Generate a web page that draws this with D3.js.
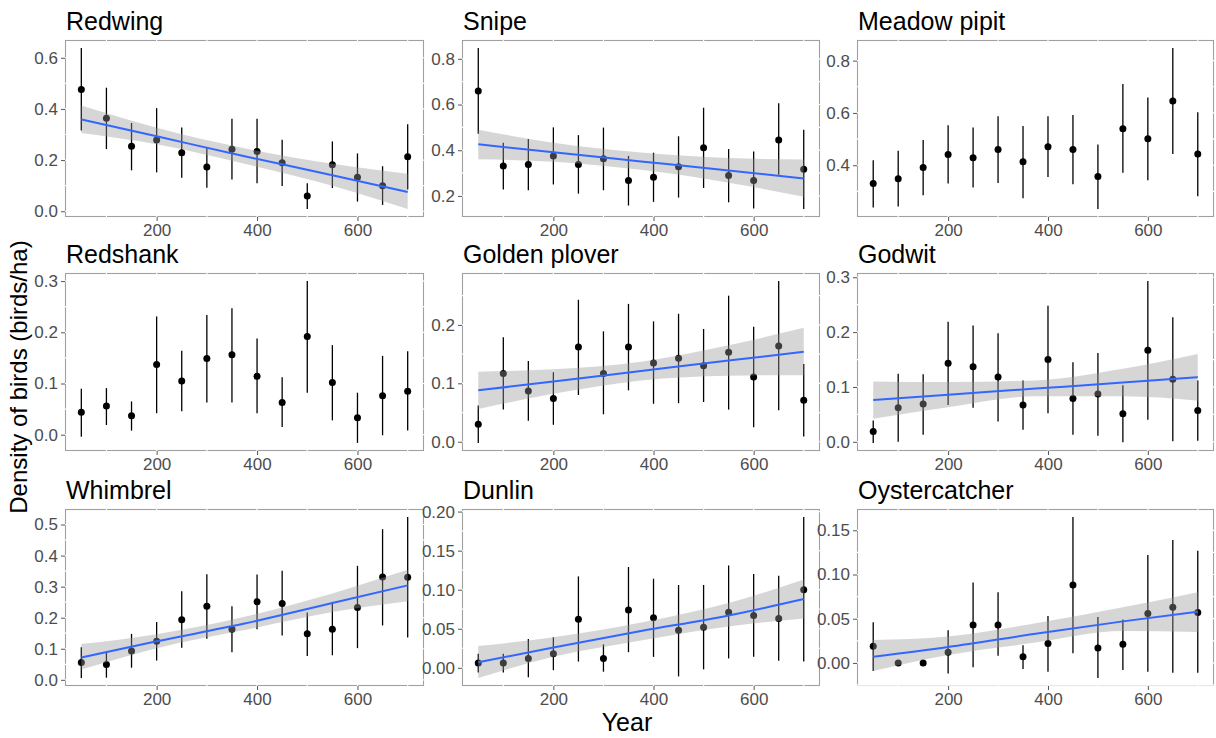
<!DOCTYPE html>
<html>
<head>
<meta charset="utf-8">
<script src="https://cdn.jsdelivr.net/npm/d3@7"></script>
<style>
  body { margin: 0; background: #fff; }
  text { font-family: "Liberation Sans", Arial, sans-serif; }
</style>
</head>
<body>
<svg id="chart" width="1216" height="738"></svg>
<script>
// ---- data ----
var years = [50, 100, 150, 200, 250, 300, 350, 400, 450, 500, 550, 600, 650, 700];
var fitYears = [50, 200, 375, 550, 700];
var xTicks = [200, 400, 600];

var redwingMean = [0.476, 0.364, 0.254, 0.279, 0.229, 0.173, 0.242, 0.234, 0.190, 0.060, 0.182, 0.133, 0.100, 0.213];
var redwingLow  = [0.316, 0.243, 0.160, 0.152, 0.131, 0.092, 0.124, 0.109, 0.099, 0.009, 0.091, 0.038, 0.025, 0.085];
var redwingHigh = [0.638, 0.483, 0.345, 0.403, 0.327, 0.251, 0.362, 0.362, 0.280, 0.109, 0.273, 0.226, 0.176, 0.340];
var redwingFit     = [0.359, 0.293, 0.215, 0.141, 0.075];
var redwingFitLow  = [0.306, 0.262, 0.186, 0.100, 0.009];
var redwingFitHigh = [0.413, 0.326, 0.246, 0.186, 0.147];
var redwingTicks = [0, 0.2, 0.4, 0.6];

var snipeMean = [0.659, 0.331, 0.338, 0.375, 0.338, 0.363, 0.267, 0.282, 0.328, 0.411, 0.289, 0.268, 0.445, 0.317];
var snipeLow  = [0.472, 0.228, 0.225, 0.250, 0.210, 0.225, 0.158, 0.174, 0.193, 0.235, 0.172, 0.145, 0.293, 0.143];
var snipeHigh = [0.847, 0.433, 0.449, 0.500, 0.466, 0.499, 0.375, 0.389, 0.461, 0.586, 0.405, 0.394, 0.606, 0.490];
var snipeFit     = [0.426, 0.391, 0.351, 0.311, 0.276];
var snipeFitLow  = [0.360, 0.350, 0.314, 0.258, 0.196];
var snipeFitHigh = [0.490, 0.433, 0.390, 0.366, 0.359];
var snipeTicks = [0.2, 0.4, 0.6, 0.8];

var pipitMean = [0.330, 0.348, 0.391, 0.441, 0.429, 0.460, 0.413, 0.471, 0.460, 0.357, 0.540, 0.501, 0.646, 0.443];
var pipitLow  = [0.239, 0.242, 0.285, 0.330, 0.315, 0.332, 0.274, 0.355, 0.327, 0.233, 0.371, 0.343, 0.443, 0.282];
var pipitHigh = [0.419, 0.455, 0.497, 0.553, 0.544, 0.587, 0.550, 0.587, 0.592, 0.479, 0.711, 0.659, 0.848, 0.603];
var pipitTicks = [0.4, 0.6, 0.8];

var redshankMean = [0.044, 0.056, 0.037, 0.137, 0.105, 0.149, 0.156, 0.114, 0.063, 0.192, 0.102, 0.033, 0.076, 0.085];
var redshankLow  = [-0.004, 0.019, 0.008, 0.042, 0.046, 0.063, 0.063, 0.042, 0.015, 0.082, 0.028, -0.016, -0.001, 0.008];
var redshankHigh = [0.090, 0.091, 0.065, 0.231, 0.164, 0.234, 0.247, 0.188, 0.112, 0.300, 0.175, 0.082, 0.154, 0.163];
var redshankTicks = [0, 0.1, 0.2, 0.3];

var ploverMean = [0.030, 0.117, 0.087, 0.074, 0.162, 0.117, 0.162, 0.135, 0.143, 0.130, 0.153, 0.111, 0.164, 0.071];
var ploverLow  = [-0.002, 0.055, 0.036, 0.029, 0.080, 0.047, 0.088, 0.065, 0.066, 0.068, 0.055, 0.025, 0.054, 0.009];
var ploverHigh = [0.062, 0.179, 0.138, 0.119, 0.243, 0.189, 0.236, 0.206, 0.219, 0.193, 0.250, 0.197, 0.275, 0.133];
var ploverFit     = [0.088, 0.103, 0.121, 0.139, 0.154];
var ploverFitLow  = [0.056, 0.082, 0.105, 0.113, 0.114];
var ploverFitHigh = [0.120, 0.124, 0.137, 0.165, 0.195];
var ploverTicks = [0, 0.1, 0.2];

var godwitMean = [0.019, 0.062, 0.069, 0.143, 0.137, 0.118, 0.067, 0.150, 0.079, 0.087, 0.051, 0.167, 0.114, 0.057];
var godwitLow  = [-0.002, 0.000, 0.013, 0.067, 0.062, 0.037, 0.022, 0.052, 0.013, 0.011, -0.001, 0.040, 0.001, 0.002];
var godwitHigh = [0.039, 0.124, 0.123, 0.219, 0.212, 0.198, 0.112, 0.248, 0.145, 0.162, 0.103, 0.293, 0.227, 0.112];
var godwitFit     = [0.076, 0.086, 0.097, 0.108, 0.118];
var godwitFitLow  = [0.042, 0.063, 0.083, 0.083, 0.075];
var godwitFitHigh = [0.110, 0.109, 0.112, 0.133, 0.160];
var godwitTicks = [0, 0.1, 0.2, 0.3];

var whimbrelMean = [0.056, 0.049, 0.093, 0.124, 0.193, 0.237, 0.163, 0.251, 0.246, 0.148, 0.163, 0.233, 0.331, 0.330];
var whimbrelLow  = [0.006, 0.007, 0.039, 0.062, 0.103, 0.132, 0.089, 0.163, 0.143, 0.077, 0.079, 0.102, 0.175, 0.136];
var whimbrelHigh = [0.105, 0.088, 0.148, 0.186, 0.285, 0.340, 0.237, 0.339, 0.351, 0.217, 0.251, 0.367, 0.485, 0.524];
var whimbrelFit     = [0.072, 0.124, 0.181, 0.247, 0.304];
var whimbrelFitLow  = [0.033, 0.102, 0.160, 0.218, 0.253];
var whimbrelFitHigh = [0.115, 0.147, 0.203, 0.278, 0.354];
var whimbrelTicks = [0, 0.1, 0.2, 0.3, 0.4, 0.5];

var dunlinMean = [0.006, 0.006, 0.012, 0.018, 0.062, 0.012, 0.074, 0.064, 0.048, 0.052, 0.071, 0.067, 0.063, 0.100];
var dunlinLow  = [-0.006, -0.006, -0.012, -0.003, 0.008, -0.005, 0.020, 0.014, -0.011, -0.002, 0.012, 0.014, 0.009, 0.008];
var dunlinHigh = [0.018, 0.018, 0.037, 0.039, 0.117, 0.030, 0.129, 0.114, 0.106, 0.106, 0.131, 0.120, 0.118, 0.193];
var dunlinFit     = [0.007, 0.026, 0.047, 0.067, 0.088];
var dunlinFitLow  = [-0.013, 0.014, 0.035, 0.053, 0.063];
var dunlinFitHigh = [0.028, 0.039, 0.058, 0.083, 0.113];
var dunlinTicks = [0, 0.05, 0.1, 0.15, 0.2];

var oysterMean = [0.019, 0.000, 0.000, 0.012, 0.043, 0.043, 0.007, 0.022, 0.088, 0.017, 0.021, 0.056, 0.063, 0.057];
var oysterLow  = [-0.009, 0.000, 0.000, -0.012, -0.005, 0.008, -0.007, -0.010, 0.011, -0.017, -0.008, -0.010, -0.011, -0.011];
var oysterHigh = [0.046, 0.000, 0.000, 0.037, 0.091, 0.080, 0.020, 0.053, 0.165, 0.052, 0.049, 0.122, 0.139, 0.127];
var oysterFit     = [0.007, 0.018, 0.033, 0.047, 0.058];
var oysterFitLow  = [-0.009, 0.009, 0.023, 0.036, 0.035];
var oysterFitHigh = [0.026, 0.030, 0.045, 0.063, 0.080];
var oysterTicks = [0, 0.05, 0.1, 0.15];

var panels = [
  { name: "Redwing",       mean: redwingMean,  low: redwingLow,  high: redwingHigh,  fit: redwingFit,  fitLow: redwingFitLow,  fitHigh: redwingFitHigh,  ticks: redwingTicks },
  { name: "Snipe",         mean: snipeMean,    low: snipeLow,    high: snipeHigh,    fit: snipeFit,    fitLow: snipeFitLow,    fitHigh: snipeFitHigh,    ticks: snipeTicks },
  { name: "Meadow pipit",  mean: pipitMean,    low: pipitLow,    high: pipitHigh,    ticks: pipitTicks },
  { name: "Redshank",      mean: redshankMean, low: redshankLow, high: redshankHigh, ticks: redshankTicks },
  { name: "Golden plover", mean: ploverMean,   low: ploverLow,   high: ploverHigh,   fit: ploverFit,   fitLow: ploverFitLow,   fitHigh: ploverFitHigh,   ticks: ploverTicks },
  { name: "Godwit",        mean: godwitMean,   low: godwitLow,   high: godwitHigh,   fit: godwitFit,   fitLow: godwitFitLow,   fitHigh: godwitFitHigh,   ticks: godwitTicks },
  { name: "Whimbrel",      mean: whimbrelMean, low: whimbrelLow, high: whimbrelHigh, fit: whimbrelFit, fitLow: whimbrelFitLow, fitHigh: whimbrelFitHigh, ticks: whimbrelTicks },
  { name: "Dunlin",        mean: dunlinMean,   low: dunlinLow,   high: dunlinHigh,   fit: dunlinFit,   fitLow: dunlinFitLow,   fitHigh: dunlinFitHigh,   ticks: dunlinTicks },
  { name: "Oystercatcher", mean: oysterMean,   low: oysterLow,   high: oysterHigh,   fit: oysterFit,   fitLow: oysterFitLow,   fitHigh: oysterFitHigh,   ticks: oysterTicks }
];

// ---- layout (panel boxes in px) ----
var colLeft = [65, 462, 857], colRight = [424, 820, 1214];
var rowTop = [40, 273, 509], rowBottom = [217, 451, 686];

var svg = d3.select("#chart");

// ggplot-like 5% expansion
function expand(ext) {
  var pad = (ext[1] - ext[0]) * 0.05;
  return [ext[0] - pad, ext[1] + pad];
}

panels.forEach(function (p, i) {
  var col = i % 3, row = Math.floor(i / 3);
  var x0 = colLeft[col], x1 = colRight[col], y0 = rowTop[row], y1 = rowBottom[row];

  var allY = p.low.concat(p.high, p.mean, p.fitLow || [], p.fitHigh || []);
  var x = d3.scaleLinear().domain(expand(d3.extent(years))).range([x0, x1]);
  var y = d3.scaleLinear().domain(expand(d3.extent(allY))).range([y1, y0]);

  var g = svg.append("g").attr("class", "panel");

  // panel background + border
  g.append("rect")
    .attr("x", x0 + 0.5).attr("y", y0 + 0.5)
    .attr("width", x1 - x0 - 1).attr("height", y1 - y0 - 1)
    .attr("fill", "#fff").attr("stroke", "#a0a0a0").attr("stroke-width", 1.1);

  // white grid lines (they cut the border, like the original)
  var step = p.ticks[1] - p.ticks[0];
  var yGrid = [];
  p.ticks.forEach(function (t) { yGrid.push(t); yGrid.push(t + step / 2); });
  yGrid.push(p.ticks[0] - step / 2);
  yGrid = yGrid.filter(function (v) { var d = y.domain(); return v > d[0] && v < d[1]; });
  var xGrid = [100, 200, 300, 400, 500, 600, 700];

  g.selectAll(".gy").data(yGrid).enter().append("line")
    .attr("x1", x0).attr("x2", x1)
    .attr("y1", function (d) { return y(d); }).attr("y2", function (d) { return y(d); })
    .attr("stroke", "#fff").attr("stroke-width", 1.2);
  g.selectAll(".gx").data(xGrid).enter().append("line")
    .attr("y1", y0).attr("y2", y1)
    .attr("x1", function (d) { return x(d); }).attr("x2", function (d) { return x(d); })
    .attr("stroke", "#fff").attr("stroke-width", 1.2);

  // axes
  var fmt = d3.format("." + d3.precisionFixed(step) + "f");
  var yAxis = g.append("g").attr("transform", "translate(" + x0 + ",0)")
    .call(d3.axisLeft(y).tickValues(p.ticks).tickFormat(fmt).tickSize(4).tickPadding(3));
  var xAxis = g.append("g").attr("transform", "translate(0," + y1 + ")")
    .call(d3.axisBottom(x).tickValues(xTicks).tickFormat(d3.format("d")).tickSize(4).tickPadding(3));
  [yAxis, xAxis].forEach(function (a) {
    a.select(".domain").remove();
    a.selectAll(".tick line").attr("stroke", "#555");
    a.selectAll(".tick text").attr("fill", "#4d4d4d").style("font-size", "17px")
      .style("font-family", "'Liberation Sans', Arial, sans-serif");
  });

  // error bars
  g.selectAll(".err").data(years).enter().append("line")
    .attr("x1", function (d) { return x(d); }).attr("x2", function (d) { return x(d); })
    .attr("y1", function (d, k) { return y(p.low[k]); })
    .attr("y2", function (d, k) { return y(p.high[k]); })
    .attr("stroke", "#000").attr("stroke-width", 1.3);

  // means
  g.selectAll(".pt").data(years).enter().append("circle")
    .attr("cx", function (d) { return x(d); })
    .attr("cy", function (d, k) { return y(p.mean[k]); })
    .attr("r", 3.5).attr("fill", "#000");

  // smoother ribbon + line
  if (p.fit) {
    var band = d3.area()
      .x(function (d) { return x(d); })
      .y0(function (d, k) { return y(p.fitLow[k]); })
      .y1(function (d, k) { return y(p.fitHigh[k]); })
      .curve(d3.curveMonotoneX);
    g.append("path").datum(fitYears).attr("d", band)
      .attr("fill", "#999").attr("fill-opacity", 0.4);

    var line = d3.line()
      .x(function (d) { return x(d); })
      .y(function (d, k) { return y(p.fit[k]); })
      .curve(d3.curveMonotoneX);
    g.append("path").datum(fitYears).attr("d", line)
      .attr("fill", "none").attr("stroke", "#3366FF").attr("stroke-width", 2);
  }

  // facet title
  g.append("text")
    .attr("x", x0 + 1).attr("y", y0 - 10)
    .style("font-size", "25px").attr("fill", "#000")
    .text(p.name);
});

// axis titles
svg.append("text")
  .attr("transform", "translate(27,377) rotate(-90)")
  .attr("text-anchor", "middle")
  .style("font-size", "24px")
  .text("Density of birds (birds/ha)");

svg.append("text")
  .attr("x", 627).attr("y", 731)
  .attr("text-anchor", "middle")
  .style("font-size", "25px")
  .text("Year");
</script>
</body>
</html>
